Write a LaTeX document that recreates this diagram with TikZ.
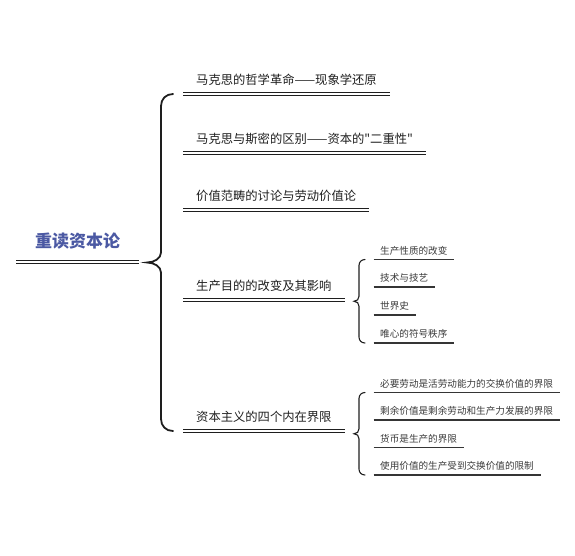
\documentclass[tikz,border=0pt]{standalone}
\usepackage{fontspec}
\setmainfont{Noto Sans CJK SC}
\newfontfamily\quotefont{Noto Sans CJK SC}
\usetikzlibrary{positioning, calc}
\definecolor{rootblue}{HTML}{4B59A3}
\definecolor{branchtext}{HTML}{1F1F1F}
\definecolor{leaftext}{HTML}{3A3A3A}
\definecolor{linedark}{HTML}{1E1E1E}
\tikzset{
  rootnode/.style={anchor=south west, inner xsep=19pt, inner ysep=0pt,
                   text height=0.8em, text depth=14.5pt, text=rootblue,
                   font=\fontsize{17}{17}\selectfont\bfseries},
  branchnode/.style={anchor=south west, inner xsep=13pt, inner ysep=0pt,
                     text height=0.8em, text depth=9.3pt, text=branchtext,
                     font=\fontsize{12.3}{12.3}\selectfont},
  leafnode/.style={anchor=south west, inner xsep=6.5pt, inner ysep=0pt,
                   text height=0.8em, text depth=5.3pt, text=leaftext,
                   font=\fontsize{9.6}{9.6}\selectfont},
  dblline/.style={draw=linedark, line width=1.1pt, double=white, double distance=1.5pt},
  leafline/.style={draw=linedark!90, line width=1.1pt},
  bigbrace/.style={draw=linedark, line width=1.8pt, line cap=round},
  smallbrace/.style={draw=linedark, line width=1.1pt, line cap=round},
}

\begin{document}
\begin{tikzpicture}[x=1pt, y=-1pt]
  \useasboundingbox (0,0) rectangle (575,555);

  % --- root ---
  \node[rootnode] (root) at (16,262) {重读资本论};
  \draw[dblline] (root.south west) -- (root.south east);

  % --- main branches ---
  \node[branchnode] (phil)    at (183,94)  {马克思的哲学革命——现象学还原};
  \node[branchnode] (smith)   at (183,153) {马克思与斯密的区别——资本的{\quotefont "}二重性{\quotefont "}};
  \node[branchnode] (value)   at (183,210) {价值范畴的讨论与劳动价值论};
  \node[branchnode] (purpose) at (183,300) {生产目的的改变及其影响};
  \node[branchnode] (limits)  at (183,431) {资本主义的四个内在界限};
  \foreach \n in {phil, smith, value, purpose, limits}
    \draw[dblline] (\n.south west) -- (\n.south east);

  % --- leaves of purpose ---
  \node[leafnode] (nature) at (373.5,259.5) {生产性质的改变};
  \node[leafnode] (tech)   at (373.5,287)   {技术与技艺};
  \node[leafnode] (world)  at (373.5,315)   {世界史};
  \node[leafnode] (symbol) at (373.5,343)   {唯心的符号秩序};

  % --- leaves of limits ---
  \node[leafnode] (labour)   at (373.5,392.5) {必要劳动是活劳动能力的交换价值的界限};
  \node[leafnode] (surplus)  at (373.5,420)   {剩余价值是剩余劳动和生产力发展的界限};
  \node[leafnode] (money)    at (373.5,447.5) {货币是生产的界限};
  \node[leafnode] (usevalue) at (373.5,475)   {使用价值的生产受到交换价值的限制};
  \foreach \n in {nature, tech, world, symbol, labour, surplus, money, usevalue}
    \draw[leafline] (\n.south west) -- (\n.south east);

  % --- main brace ---
  \coordinate (btop) at ([xshift=-10pt]phil.south west);
  \coordinate (bbot) at ([xshift=-10pt]limits.south west);
  \coordinate (btip) at ($(btop)!0.5!(bbot)+(-26,0)$);
  \draw[bigbrace] (btop) .. controls +(-7,0) and +(0,-7) .. ($(btop)+(-12,12)$)
    -- ($(btip)+(14,-10)$) .. controls +(0,6) and +(7,0) .. (btip)
    .. controls +(7,0) and +(0,-6) .. ($(btip)+(14,10)$)
    -- ($(bbot)+(-12,-12)$) .. controls +(0,7) and +(-7,0) .. (bbot);

  % --- sub braces ---
  \coordinate (ptop) at ([xshift=-8.5pt]nature.south west);
  \coordinate (pbot) at ([xshift=-8.5pt]symbol.south west);
  \coordinate (ptip) at ($(ptop)!0.5!(pbot)+(-11,0)$);
  \draw[smallbrace] (ptop) .. controls +(-3.5,0) and +(0,-3.5) .. ($(ptop)+(-6,6)$)
    -- ($(ptip)+(5,-5)$) .. controls +(0,3) and +(3,0) .. (ptip)
    .. controls +(3,0) and +(0,-3) .. ($(ptip)+(5,5)$)
    -- ($(pbot)+(-6,-6)$) .. controls +(0,3.5) and +(-3.5,0) .. (pbot);

  \coordinate (ltop) at ([xshift=-8.5pt]labour.south west);
  \coordinate (lbot) at ([xshift=-8.5pt]usevalue.south west);
  \coordinate (ltip) at ($(ltop)!0.5!(lbot)+(-11,0)$);
  \draw[smallbrace] (ltop) .. controls +(-3.5,0) and +(0,-3.5) .. ($(ltop)+(-6,6)$)
    -- ($(ltip)+(5,-5)$) .. controls +(0,3) and +(3,0) .. (ltip)
    .. controls +(3,0) and +(0,-3) .. ($(ltip)+(5,5)$)
    -- ($(lbot)+(-6,-6)$) .. controls +(0,3.5) and +(-3.5,0) .. (lbot);
\end{tikzpicture}
\end{document}
